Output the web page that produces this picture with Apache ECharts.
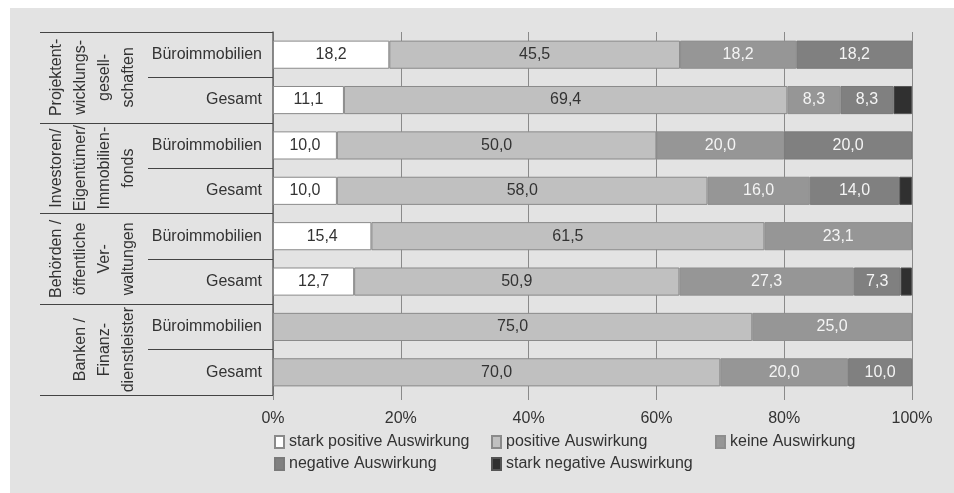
<!DOCTYPE html>
<html>
<head>
<meta charset="utf-8">
<script src="https://cdn.jsdelivr.net/npm/echarts@6/dist/echarts.min.js"></script>
<style>
html,body{margin:0;padding:0;background:#fff;}
#c{width:954px;height:493px;}
</style>
</head>
<body>
<div id="c"></div>
<script>
const categories = ['Büroimmobilien','Gesamt','Büroimmobilien','Gesamt','Büroimmobilien','Gesamt','Büroimmobilien','Gesamt'];
const groups = ['Projektent-\nwicklungs-\ngesell-\nschaften','Investoren/\nEigentümer/\nImmobilien-\nfonds','Behörden /\nöffentliche\nVer-\nwaltungen','Banken /\nFinanz-\ndienstleister'];
const seriesNames = ['stark positive Auswirkung','positive Auswirkung','keine Auswirkung','negative Auswirkung','stark negative Auswirkung'];
const starkPositiv = [18.2, 11.1, 10.0, 10.0, 15.4, 12.7, 0, 0];
const positiv = [45.5, 69.4, 50.0, 58.0, 61.5, 50.9, 75.0, 70.0];
const keine = [18.2, 8.3, 20.0, 16.0, 23.1, 27.3, 25.0, 20.0];
const negativ = [18.2, 8.3, 20.0, 14.0, 0, 7.3, 0, 10.0];
const starkNegativ = [0, 2.9, 0, 2.0, 0, 1.8, 0, 0];
const xTicks = [0, 20, 40, 60, 80, 100];

const FONT = "'Liberation Sans', Arial, sans-serif";
const fills = ['#ffffff','#c0c0c0','#969696','#808080','#303030'];
const borders = ['#8a8a8a','#8a8a8a','#8e8e8e','#7a7a7a','#555555'];
const labelColors = ['#333333','#333333','#f4f4f4','#f4f4f4','#f4f4f4'];
const values = [starkPositiv, positiv, keine, negativ, starkNegativ];

const fmt = v => (v > 0 ? v.toFixed(1).replace('.', ',') : '');

const series = values.map((arr, i) => ({
  name: seriesNames[i],
  type: 'bar',
  stack: 'total',
  yAxisIndex: 0,
  barWidth: '62%',
  data: arr.map(v => (v > 0 ? v : '-')),
  itemStyle: { color: fills[i], borderColor: borders[i], borderWidth: 1 },
  label: {
    show: i < 4,
    position: 'inside',
    fontFamily: FONT,
    fontSize: 16,
    color: labelColors[i],
    formatter: p => fmt(p.value)
  },
  emphasis: { disabled: true },
  animation: false
}));

const legendPos = [[274, 434], [491, 434], [715, 434], [274, 456], [491, 456]];
const legends = seriesNames.map((n, i) => ({
  data: [n],
  left: legendPos[i][0],
  top: legendPos[i][1],
  padding: 0,
  itemWidth: 9,
  itemHeight: 12,
  itemGap: 0,
  icon: 'rect',
  selectedMode: false,
  textStyle: { fontFamily: FONT, fontSize: 16, color: '#333' }
}));

const chart = echarts.init(document.getElementById('c'), null, { renderer: 'canvas' });
chart.setOption({
  backgroundColor: '#ffffff',
  animation: false,
  graphic: [{
    type: 'rect', z: -10, silent: true,
    shape: { x: 10, y: 8, width: 944, height: 485 },
    style: { fill: '#e3e3e3' }
  }],
  legend: legends,
  grid: { left: 273, right: 42, top: 32, bottom: 98, containLabel: false },
  xAxis: {
    type: 'value',
    min: xTicks[0],
    max: xTicks[xTicks.length - 1],
    interval: 20,
    axisLine: { show: false },
    axisTick: { show: true, length: 5, lineStyle: { color: '#8a8a8a' } },
    splitLine: { show: true, lineStyle: { color: '#8a8a8a', width: 1 } },
    axisLabel: { formatter: '{value}%', fontFamily: FONT, fontSize: 16, color: '#333', margin: 16 }
  },
  yAxis: [{
    type: 'category',
    inverse: true,
    position: 'left',
    data: categories,
    axisLine: { show: true, lineStyle: { color: '#666', width: 1.5 } },
    axisTick: { show: true, length: 125, lineStyle: { color: '#444' } },
    axisLabel: { interval: 0, margin: 11, fontFamily: FONT, fontSize: 16, color: '#333' },
    splitLine: { show: false }
  }, {
    type: 'category',
    inverse: true,
    position: 'left',
    offset: 0,
    data: groups,
    axisLine: { show: false },
    axisTick: { show: true, length: 233, lineStyle: { color: '#444' } },
    axisLabel: { interval: 0, rotate: 90, margin: 132, fontFamily: FONT, fontSize: 16, lineHeight: 24, color: '#333' },
    splitLine: { show: false }
  }],
  series: series
});
</script>
</body>
</html>
